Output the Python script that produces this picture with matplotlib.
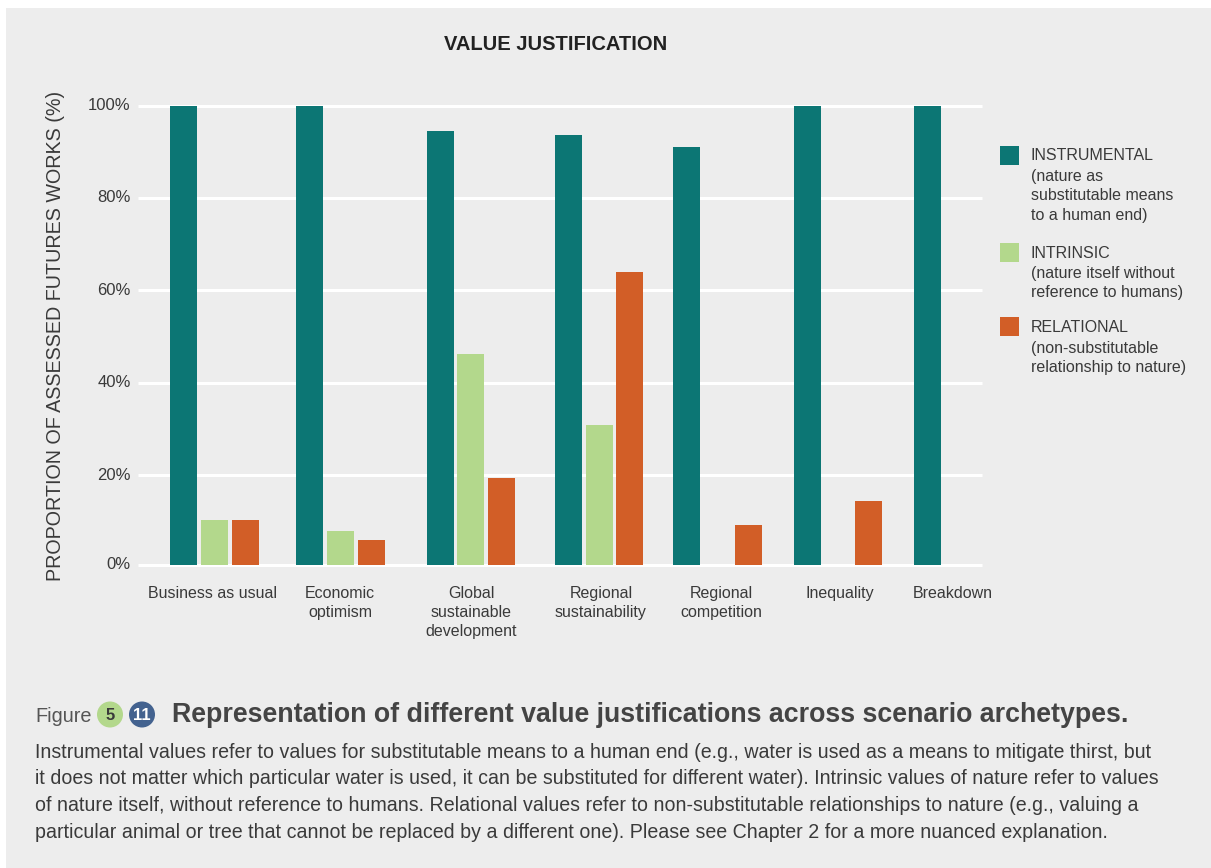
import numpy as np
import matplotlib
matplotlib.use('Agg')
import matplotlib.pyplot as plt
from matplotlib.patches import Circle, Rectangle
from matplotlib.transforms import ScaledTranslation

plt.rcParams['font.family'] = ['Liberation Sans', 'DejaVu Sans']

# data
categories = ['Business as usual', 'Economic\noptimism', 'Global\nsustainable\ndevelopment',
              'Regional\nsustainability', 'Regional\ncompetition', 'Inequality', 'Breakdown']
instrumental = [100, 100, 94.5, 93.7, 91.0, 100, 100]
intrinsic = [10.3, 7.9, 46.2, 30.9, np.nan, np.nan, np.nan]
relational = [10.3, 6.0, 19.4, 64.0, 9.2, 14.4, np.nan]
y_ticks = [20, 40, 60, 80, 100]
y_labels = ['20%', '40%', '60%', '80%', '100%']

legend_titles = ['INSTRUMENTAL', 'INTRINSIC', 'RELATIONAL']
legend_notes = ['(nature as\nsubstitutable means\nto a human end)',
                '(nature itself without\nreference to humans)',
                '(non-substitutable\nrelationship to nature)']

caption = ('Instrumental values refer to values for substitutable means to a human end (e.g., water is used as a means to mitigate thirst, but',
           'it does not matter which particular water is used, it can be substituted for different water). Intrinsic values of nature refer to values',
           'of nature itself, without reference to humans. Relational values refer to non-substitutable relationships to nature (e.g., valuing a',
           'particular animal or tree that cannot be replaced by a different one). Please see Chapter 2 for a more nuanced explanation.')

# layout, the groups are not evenly spaced in the original
group_x = np.array([214.5, 340.5, 470.7, 599.2, 717.5, 838, 958])
label_x = [213, 340, 471, 601, 721, 840, 953]
bar_w = 27
slot = 30.7
baseline = 0.7  # the zero line sits a little above true zero in the original

TEAL = '#0C7674'
GREEN = '#B3D88C'
ORANGE = '#D25E27'
BG = '#EDEDED'
TEXT = '#3A3A3A'
W, H = 1211, 868

fig = plt.figure(figsize=(W / 100, H / 100), dpi=100, facecolor='white')

# full page overlay in pixel coordinates for panel, legend and caption
page = fig.add_axes([0, 0, 1, 1], zorder=0)
page.set_xlim(0, W)
page.set_ylim(H, 0)
page.axis('off')
page.add_patch(Rectangle((6, 8), W - 6, H - 8, color=BG, lw=0))

# chart axes
left, right, y100, y20 = 138, 982, 105.5, 475.3
per_unit = (y20 - y100) / 80
y0 = y100 + 100 * per_unit
ax = fig.add_axes([left / W, 1 - y0 / H, (right - left) / W, (y0 - y100) / H], zorder=1)
ax.patch.set_alpha(0)
ax.set_xlim(left, right)
ax.set_ylim(0, 100)
for s in ax.spines.values():
    s.set_visible(False)

ax.set_yticks([baseline] + y_ticks, ['0%'] + y_labels)
ax.set_xticks(label_x, categories)
ax.tick_params(axis='y', length=0, labelsize=12, labelcolor=TEXT, pad=5.3)
ax.tick_params(axis='x', length=0, labelsize=11.5, labelcolor=TEXT, pad=13)
for t in ax.get_xticklabels():
    t.set_linespacing(1.36)
for t in ax.get_yticklabels():
    t.set_transform(t.get_transform() + ScaledTranslation(0, 1.5 / 100, fig.dpi_scale_trans))
ax.grid(axis='y', color='white', lw=2.2, clip_on=False, solid_capstyle='butt')
ax.set_axisbelow(True)

for vals, off, col in [(instrumental, -slot, TEAL), (intrinsic, 0, GREEN), (relational, slot, ORANGE)]:
    vals = np.array(vals)
    ax.bar(group_x + off, vals - baseline, width=bar_w, bottom=baseline, color=col, lw=0, zorder=3)

page.text(555.5, 44, 'VALUE JUSTIFICATION', fontsize=14.5, fontweight='bold', color='#222222',
          ha='center', va='center')
page.text(56, 336, 'PROPORTION OF ASSESSED FUTURES WORKS (%)', fontsize=14.2, color=TEXT,
          rotation=90, ha='center', va='center')

# legend
for title, note, col, sq_y, txt_y in zip(legend_titles, legend_notes, [TEAL, GREEN, ORANGE],
                                         [146, 243, 317], [156, 253, 328]):
    page.add_patch(Rectangle((1000, sq_y), 19, 19, color=col, lw=0))
    page.text(1031, txt_y, title, fontsize=11.5, color=TEXT, ha='left', va='center')
    page.text(1031, txt_y + 13, note, fontsize=11.5, color=TEXT, ha='left', va='top', linespacing=1.36)

# caption
page.text(35, 721.5, 'Figure', fontsize=14.3, color='#555555', ha='left', va='baseline')
page.add_patch(Circle((110, 714.5), 13, color=GREEN, lw=0))
page.text(110, 715, '5', fontsize=12, fontweight='bold', color=TEXT, ha='center', va='center')
page.add_patch(Circle((142, 714.5), 13, color='#43628F', lw=0))
page.text(142, 715, '11', fontsize=12, fontweight='bold', color='white', ha='center', va='center')
page.text(172, 722, 'Representation of different value justifications across scenario archetypes.',
          fontsize=19.25, fontweight='bold', color='#444444', ha='left', va='baseline')
for i, line in enumerate(caption):
    page.text(35, 757.5 + i * 26.8, line, fontsize=14.1, color=TEXT, ha='left', va='baseline')

fig.savefig('out.png', dpi=100, facecolor='white')
